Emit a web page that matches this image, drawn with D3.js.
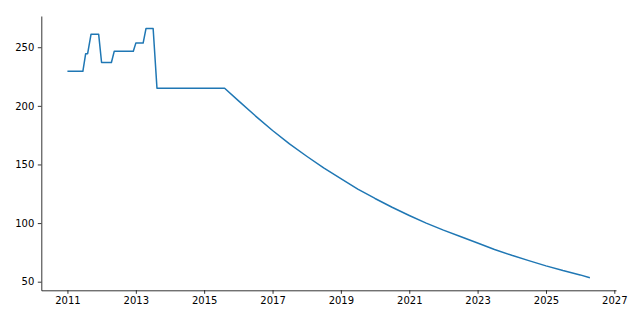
<!DOCTYPE html>
<html>
<head>
<meta charset="utf-8">
<script src="https://cdn.jsdelivr.net/npm/d3@7"></script>
<style>
  body { margin: 0; background: #fff; }
  svg { display: block; }
  .ejes text { font-family: "DejaVu Sans", sans-serif; font-size: 10px; fill: #000; }
  .ejes path, .ejes line { stroke: #000; stroke-width: 0.8; }
</style>
</head>
<body>
<div id="graf"></div>
<script>
// fechas de la serie
const fechas = [
  "2011-01-01", "2011-06-15", "2011-07-15", "2011-08-05", "2011-09-10",
  "2011-12-01", "2012-01-01", "2012-04-15", "2012-05-15", "2012-12-05",
  "2013-01-01", "2013-03-20", "2013-04-20", "2013-07-05", "2013-08-15",
  "2015-08-08", "2016-01-01", "2016-07-01", "2017-01-01", "2017-07-01",
  "2018-01-01", "2018-07-01", "2019-01-01", "2019-07-01", "2020-01-01",
  "2020-07-01", "2021-01-01", "2021-07-01", "2022-01-01", "2022-07-01",
  "2023-01-01", "2023-07-01", "2024-01-01", "2024-07-01", "2025-01-01",
  "2025-07-01", "2026-01-01", "2026-04-15"
];
// valores de la serie
const valores = [
  229.5, 229.5, 244.5, 244.5, 261,
  261, 237, 237, 246.5, 246.5,
  253.5, 253.5, 266, 266, 215,
  215, 204.5, 191.5, 179, 167.5,
  157, 147, 138, 129, 121,
  113.5, 106.5, 100, 94, 88.5,
  83, 77.5, 72.5, 68, 63.5,
  59.5, 55.8, 53.3
];
// años de las marcas del eje x
const aniosTicks = [2011, 2013, 2015, 2017, 2019, 2021, 2023, 2025, 2027];
const valoresTicksY = [50, 100, 150, 200, 250];

const parse = d3.timeParse("%Y-%m-%d");
const data = fechas.map((f, i) => ({ fecha: parse(f), valor: valores[i] }));

const anchototal = 640, altototal = 320;
const margins = { left: 41.3, top: 16, right: 24, bottom: 29.7 };
const anchografica = anchototal - margins.left - margins.right;
const altografica = altototal - margins.top - margins.bottom;

// dominios con 5% de margen, como matplotlib
const ext = d3.extent(data, d => +d.fecha);
const padX = (ext[1] - ext[0]) * 0.05;
const extY = d3.extent(data, d => d.valor);
const padY = (extY[1] - extY[0]) * 0.05;

const x = d3.scaleTime()
  .domain([new Date(ext[0] - padX), new Date(ext[1] + padX)])
  .range([0, anchografica]);
const y = d3.scaleLinear()
  .domain([extY[0] - padY, extY[1] + padY])
  .range([altografica, 0]);

const svg = d3.select("#graf").append("svg")
  .attr("width", anchototal)
  .attr("height", altototal);

const g = svg.append("g")
  .attr("transform", `translate(${margins.left}, ${margins.top})`);

// línea
g.append("path")
  .datum(data)
  .attr("fill", "none")
  .attr("stroke", "#1f77b4")
  .attr("stroke-width", 1.5)
  .attr("stroke-linejoin", "round")
  .attr("d", d3.line().x(d => x(d.fecha)).y(d => y(d.valor)));

// ejes
const xAxis = d3.axisBottom(x)
  .tickValues(aniosTicks.map(a => new Date(a, 0, 1)))
  .tickFormat(d3.timeFormat("%Y"))
  .tickSizeInner(3.5).tickSizeOuter(0).tickPadding(3.5);
const yAxis = d3.axisLeft(y)
  .tickValues(valoresTicksY)
  .tickSizeInner(3.5).tickSizeOuter(0).tickPadding(3.5);

g.append("g").attr("class", "ejes")
  .attr("transform", `translate(0, ${altografica})`)
  .call(xAxis);
g.append("g").attr("class", "ejes").call(yAxis);
</script>
</body>
</html>
